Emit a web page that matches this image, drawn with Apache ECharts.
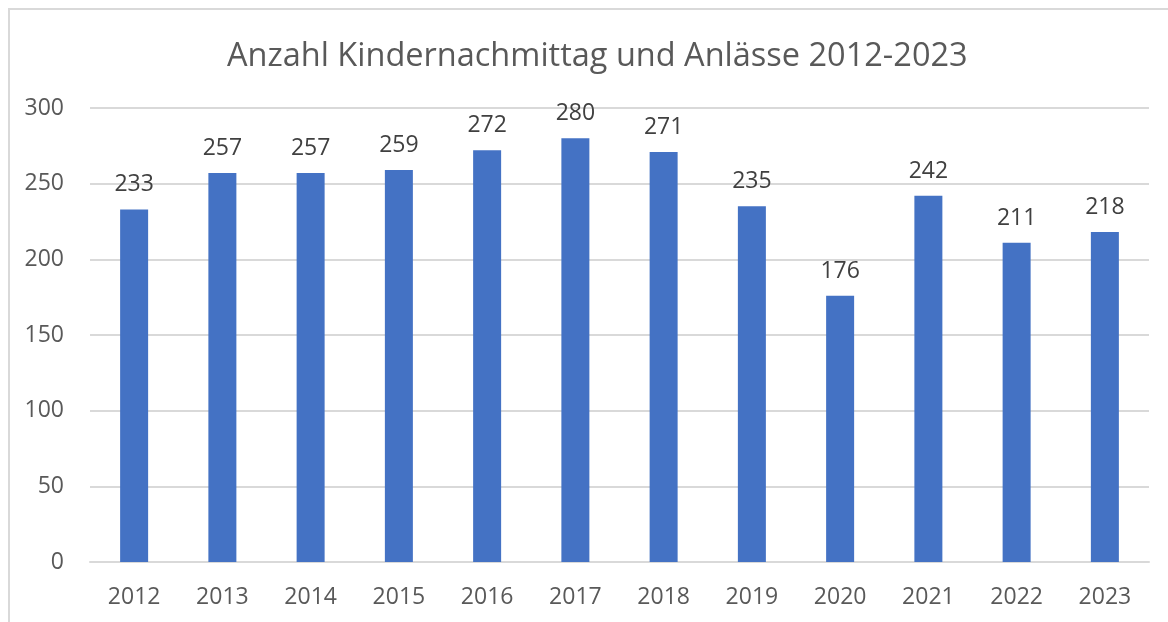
<!DOCTYPE html>
<html>
<head>
<meta charset="utf-8">
<script src="https://cdn.jsdelivr.net/npm/echarts@6/dist/echarts.min.js"></script>
<style>
  html, body { margin: 0; padding: 0; background: #fff; }
  #frame { position: absolute; left: 8px; top: 8px; width: 1200px; height: 700px; border: 2px solid #d9d9d9; box-sizing: border-box; }
  #chart { position: absolute; left: 0; top: 0; width: 1168px; height: 622px; }
</style>
</head>
<body>
<div id="frame"></div>
<div id="chart"></div>
<script>
var years = ['2012', '2013', '2014', '2015', '2016', '2017', '2018', '2019', '2020', '2021', '2022', '2023']
var counts = [233, 257, 257, 259, 272, 280, 271, 235, 176, 242, 211, 218]
var yTicks = [0, 50, 100, 150, 200, 250, 300]

var chart = echarts.init(document.getElementById('chart'))
chart.setOption({
  animation: false,
  title: {
    text: 'Anzahl Kindernachmittag und Anlässe 2012-2023',
    left: 222,
    top: 35,
    textStyle: {
      color: '#595959',
      fontSize: 32.5,
      fontWeight: 'normal',
      fontFamily: 'Open Sans'
    }
  },
  grid: {
    left: 90,
    right: 19,
    top: 108,
    bottom: 60
  },
  xAxis: {
    type: 'category',
    data: years,
    axisTick: { show: false },
    axisLine: { lineStyle: { color: '#d9d9d9', width: 2 } },
    axisLabel: {
      color: '#595959',
      fontSize: 23,
      fontFamily: 'Open Sans',
      margin: 24
    }
  },
  yAxis: {
    type: 'value',
    min: yTicks[0],
    max: yTicks[yTicks.length - 1],
    interval: 50,
    axisLine: { show: false },
    axisTick: { show: false },
    splitLine: { lineStyle: { color: '#d9d9d9', width: 2 } },
    axisLabel: {
      color: '#595959',
      fontSize: 23,
      fontFamily: 'Open Sans',
      margin: 26
    }
  },
  series: [
    {
      type: 'bar',
      data: counts,
      barWidth: 28,
      itemStyle: { color: '#4472c4' },
      label: {
        show: true,
        position: 'top',
        distance: 13,
        color: '#404040',
        fontSize: 23,
        fontFamily: 'Open Sans'
      }
    }
  ]
})
</script>
</body>
</html>
